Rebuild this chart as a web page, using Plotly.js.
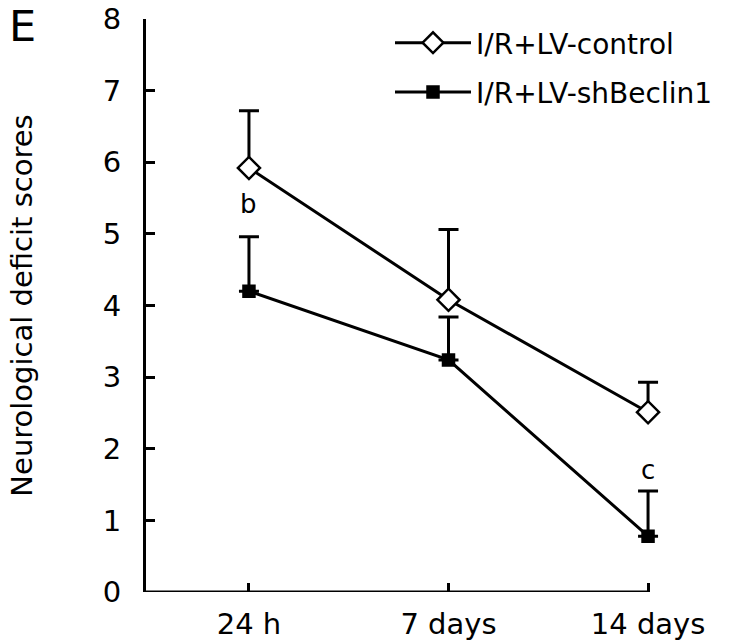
<!DOCTYPE html>
<html>
<head>
<meta charset="utf-8">
<script src="https://cdn.plot.ly/plotly-3.0.1.min.js"></script>
<style>
  html, body { margin: 0; padding: 0; background: #fff; }
  #chart { width: 755px; height: 644px; }
</style>
</head>
<body>
<div id="chart"></div>
<script>
// ---- data ----
const timepoints = ["24 h", "7 days", "14 days"];
const controlMean = [5.92, 4.08, 2.51];
const controlErr  = [0.80, 0.98, 0.42];
const shMean      = [4.20, 3.24, 0.78];
const shErr       = [0.76, 0.60, 0.63];
const sigLabels   = [
  { x: "24 h", y: 5.42, text: "b" },
  { x: "14 days", y: 1.70, text: "c" }
];

const FONT = "DejaVu Sans, Verdana, sans-serif";

// plot box in px (from the reference)
const L = 146, R = 668, T = 19, B = 592;
const W = 755, H = 644;
const px = x => (x - L) / (R - L);
const py = y => (B - y) / (B - T);

function series(name, y, err, symbol, msize, fill){
  return {
    type: "scatter",
    mode: "lines+markers",
    name: name,
    legendgroup: name,
    x: timepoints,
    y: y,
    cliponaxis: false,
    line: { color: "#000", width: 3 },
    marker: { symbol: symbol, size: msize, color: fill, line: { color: "#000", width: 2.5 } },
    error_y: { type: "data", symmetric: false, array: err, arrayminus: err.map(() => 0),
               color: "#000", thickness: 3, width: 10 }
  };
}

const data = [
  series("I/R+LV-control", controlMean, controlErr, "diamond", 17, "#fff"),
  series("I/R+LV-shBeclin1", shMean, shErr, "square", 11, "#000")
];

const annotations = sigLabels.map(s => ({
  x: s.x, y: s.y, xref: "x", yref: "y", text: s.text, showarrow: false,
  font: { family: FONT, size: 26, color: "#000" }
}));
annotations.push({
  xref: "paper", yref: "paper", x: px(7), y: py(-1), xanchor: "left", yanchor: "top",
  text: "E", showarrow: false, font: { family: FONT, size: 43, color: "#000" }
});

// x axis line stops at the last category tick, like the original
const xRange = [-0.516, 2.1];
const shapes = [{
  type: "line", xref: "x", yref: "y", x0: xRange[0], x1: timepoints.length - 1, y0: 0, y1: 0,
  line: { color: "#000", width: 3 }, layer: "above"
}];

const layout = {
  width: W, height: H,
  margin: { l: L, r: W - R, t: T, b: H - B, pad: 0 },
  paper_bgcolor: "#fff", plot_bgcolor: "#fff",
  showlegend: true,
  legend: {
    x: px(390), y: py(18), xanchor: "left", yanchor: "top",
    font: { family: FONT, size: 28, color: "#000" },
    itemwidth: 76, traceorder: "grouped", tracegroupgap: 10, bgcolor: "rgba(0,0,0,0)"
  },
  xaxis: {
    type: "category",
    range: xRange,
    showline: false,
    ticks: "inside", ticklen: 9, tickwidth: 3, tickcolor: "#000",
    showgrid: false, zeroline: false,
    ticklabelstandoff: 12,
    tickfont: { family: FONT, size: 29, color: "#000" }
  },
  yaxis: {
    range: [0, 8], dtick: 1,
    showline: true, linecolor: "#000", linewidth: 3,
    ticks: "inside", ticklen: 9, tickwidth: 3, tickcolor: "#000",
    showgrid: false, zeroline: false,
    ticklabelstandoff: 16,
    tickfont: { family: FONT, size: 29, color: "#000" },
    title: { text: "Neurological deficit scores", standoff: 62,
             font: { family: FONT, size: 29, color: "#000" } }
  },
  shapes: shapes,
  annotations: annotations
};

Plotly.newPlot("chart", data, layout, { displayModeBar: false, staticPlot: true });
</script>
</body>
</html>
